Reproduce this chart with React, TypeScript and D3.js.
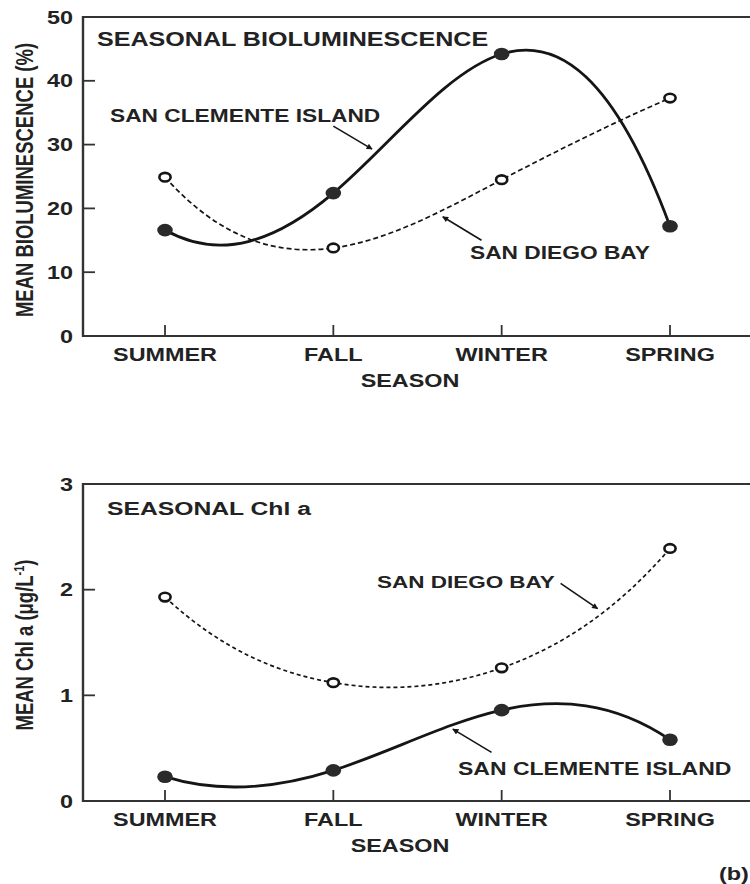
import React from "react";
import * as d3 from "d3";

// Seasonal means for the two stations
const seasons = ["SUMMER", "FALL", "WINTER", "SPRING"];
const biolumClemente = [16.6, 22.4, 44.2, 17.2];
const biolumDiego = [24.9, 13.8, 24.5, 37.3];
const chlClemente = [0.23, 0.29, 0.86, 0.58];
const chlDiego = [1.93, 1.12, 1.26, 2.39];
const biolumTicks = [0, 10, 20, 30, 40, 50];
const chlTicks = [0, 1, 2, 3];

const W = 750;
const H = 884;
const FONT = "'Liberation Sans', Arial, Helvetica, sans-serif";
const INK = "#151515";
const TEXT = "#222";
const SX = 1.3; // horizontal stretch of the lettering

// Cubic spline whose end second derivatives are a multiple of their
// neighbours' (a stronger run-out than the natural spline), used as a
// d3 curve factory.
const RUNOUT = 2;

function secondDerivs(v: number[]): number[] {
  const n = v.length;
  const m = new Array(n).fill(0);
  const k = n - 2;
  if (k < 1) return m;
  const b = new Array(k).fill(4);
  const r = new Array(k);
  for (let j = 0; j < k; j++) r[j] = 6 * (v[j] - 2 * v[j + 1] + v[j + 2]);
  b[0] += RUNOUT;
  b[k - 1] += RUNOUT;
  for (let j = 1; j < k; j++) {
    const w = 1 / b[j - 1];
    b[j] -= w;
    r[j] -= w * r[j - 1];
  }
  const s = new Array(k);
  s[k - 1] = r[k - 1] / b[k - 1];
  for (let j = k - 2; j >= 0; j--) s[j] = (r[j] - s[j + 1]) / b[j];
  for (let j = 0; j < k; j++) m[j + 1] = s[j];
  m[0] = RUNOUT * m[1];
  m[n - 1] = RUNOUT * m[n - 2];
  return m;
}

class RunoutSpline {
  _context: any;
  _x: number[] = [];
  _y: number[] = [];
  constructor(context: any) {
    this._context = context;
  }
  areaStart() {}
  areaEnd() {}
  lineStart() {
    this._x = [];
    this._y = [];
  }
  point(x: number, y: number) {
    this._x.push(+x);
    this._y.push(+y);
  }
  lineEnd() {
    const x = this._x;
    const y = this._y;
    const n = x.length;
    if (!n) return;
    const ctx = this._context;
    ctx.moveTo(x[0], y[0]);
    if (n === 2) {
      ctx.lineTo(x[1], y[1]);
      return;
    }
    const mx = secondDerivs(x);
    const my = secondDerivs(y);
    const c = (v: number[], m: number[], i: number) => {
      const d = v[i + 1] - v[i];
      return [
        v[i] + (d - (2 * m[i] + m[i + 1]) / 6) / 3,
        v[i + 1] - (d + (m[i] + 2 * m[i + 1]) / 6) / 3,
      ];
    };
    for (let i = 0; i < n - 1; i++) {
      const [x1, x2] = c(x, mx, i);
      const [y1, y2] = c(y, my, i);
      ctx.bezierCurveTo(x1, y1, x2, y2, x[i + 1], y[i + 1]);
    }
  }
}
const curveRunout = (context: any) => new RunoutSpline(context);

const x = d3.scaleLinear().domain([0, seasons.length - 1]).range([165, 670]);
const axisX0 = 83;

const T = ({
  x,
  y,
  children,
  anchor = "start",
  size = 18,
}: {
  x: number;
  y: number;
  children: React.ReactNode;
  anchor?: string;
  size?: number;
}) => (
  <text
    transform={`translate(${x},${y}) scale(${SX},1)`}
    textAnchor={anchor}
    fontSize={size}
    fontWeight="bold"
    fontFamily={FONT}
    fill={TEXT}
  >
    {children}
  </text>
);

type PanelProps = {
  y: d3.ScaleLinear<number, number>;
  ticks: number[];
  solid: number[];
  dashed: number[];
  dash: string;
  yTitle: React.ReactNode;
  titleCenter: number;
  seasonX: number;
  children?: React.ReactNode;
};

function Panel({ y, ticks, solid, dashed, dash, yTitle, titleCenter, seasonX, children }: PanelProps) {
  const [yBottom, yTop] = y.range();
  const line = d3
    .line<number>()
    .x((_, i) => x(i))
    .y((d) => y(d))
    .curve(curveRunout as any);
  return (
    <g>
      {/* frame: top border, left axis, bottom axis */}
      <line x1={axisX0} x2={W} y1={yTop} y2={yTop} stroke="#333" strokeWidth={2.2} />
      <line x1={axisX0} x2={axisX0} y1={yTop - 1} y2={yBottom + 1} stroke="#333" strokeWidth={2.4} />
      <line x1={axisX0} x2={W} y1={yBottom} y2={yBottom} stroke="#333" strokeWidth={2.2} />
      {ticks.map((t) => (
        <g key={t}>
          <line x1={axisX0} x2={axisX0 + 12} y1={y(t)} y2={y(t)} stroke="#333" strokeWidth={1.8} />
          <T x={73} y={y(t) + 6.5} anchor="end">
            {t}
          </T>
        </g>
      ))}
      {seasons.map((s, i) => (
        <g key={s}>
          <line x1={x(i)} x2={x(i)} y1={yBottom} y2={yBottom - 11} stroke="#333" strokeWidth={1.8} />
          <T x={x(i)} y={yBottom + 25} anchor="middle">
            {s}
          </T>
        </g>
      ))}
      <T x={seasonX} y={yBottom + 51} anchor="middle">
        SEASON
      </T>
      <text
        transform={`translate(33,${titleCenter}) rotate(-90) scale(1,${SX})`}
        textAnchor="middle"
        fontSize={18.5}
        fontWeight="bold"
        fontFamily={FONT}
        fill={TEXT}
      >
        {yTitle}
      </text>

      <path d={line(dashed) || ""} fill="none" stroke={INK} strokeWidth={1.7} strokeDasharray={dash} />
      <path d={line(solid) || ""} fill="none" stroke={INK} strokeWidth={2.8} />

      {dashed.map((v, i) => (
        <ellipse key={"o" + i} cx={x(i)} cy={y(v)} rx={5.6} ry={4.3} fill="#fff" stroke={INK} strokeWidth={2.6} />
      ))}
      {solid.map((v, i) => (
        <ellipse key={"f" + i} cx={x(i)} cy={y(v)} rx={7.8} ry={6.3} fill="#2a2a2a" />
      ))}
      {children}
    </g>
  );
}

const Arrow = ({ x1, y1, x2, y2 }: { x1: number; y1: number; x2: number; y2: number }) => (
  <line x1={x1} y1={y1} x2={x2} y2={y2} stroke={INK} strokeWidth={1.6} markerEnd="url(#head)" />
);

export default function App() {
  const yB = d3.scaleLinear().domain([0, 50]).range([336, 17]);
  const yC = d3.scaleLinear().domain([0, 3]).range([801, 484]);

  return (
    <svg
      width={W}
      height={H}
      viewBox={`0 0 ${W} ${H}`}
      style={{ position: "absolute", left: 0, top: 0, background: "#fff" }}
    >
      <defs>
        <marker id="head" viewBox="0 0 10 10" refX={9} refY={5} markerWidth={7} markerHeight={6} orient="auto" markerUnits="userSpaceOnUse">
          <path d="M0,0 L10,5 L0,10 z" fill={INK} />
        </marker>
      </defs>
      <rect width={W} height={H} fill="#fff" />

      <Panel
        y={yB}
        ticks={biolumTicks}
        solid={biolumClemente}
        dashed={biolumDiego}
        dash="5,3"
        yTitle="MEAN BIOLUMINESCENCE (%)"
        titleCenter={180}
        seasonX={410}
      >
        <T x={97} y={46} size={19.3}>
          SEASONAL BIOLUMINESCENCE
        </T>
        <T x={110} y={122} size={17.5}>
          SAN CLEMENTE ISLAND
        </T>
        <Arrow x1={x(1.0)} y1={yB(32.9)} x2={x(1.23)} y2={yB(29.3)} />
        <T x={470} y={259} size={17.5}>
          SAN DIEGO BAY
        </T>
        <Arrow x1={x(1.88)} y1={yB(15.0)} x2={x(1.65)} y2={yB(18.7)} />
      </Panel>

      <Panel
        y={yC}
        ticks={chlTicks}
        solid={chlClemente}
        dashed={chlDiego}
        dash="4,3"
        yTitle={
          <>
            MEAN Chl a (μg/L
            <tspan dy={-7} fontSize={11}>
              -1
            </tspan>
            <tspan dy={7}>)</tspan>
          </>
        }
        titleCenter={645}
        seasonX={400}
      >
        <T x={107} y={515} size={19}>
          SEASONAL Chl a
        </T>
        <T x={377} y={588} size={17.3}>
          SAN DIEGO BAY
        </T>
        <Arrow x1={x(2.35)} y1={yC(2.06)} x2={x(2.57)} y2={yC(1.82)} />
        <T x={458} y={775} size={17.7}>
          SAN CLEMENTE ISLAND
        </T>
        <Arrow x1={x(1.94)} y1={yC(0.46)} x2={x(1.71)} y2={yC(0.68)} />
      </Panel>

      <T x={719} y={880}>
        (b)
      </T>
    </svg>
  );
}
